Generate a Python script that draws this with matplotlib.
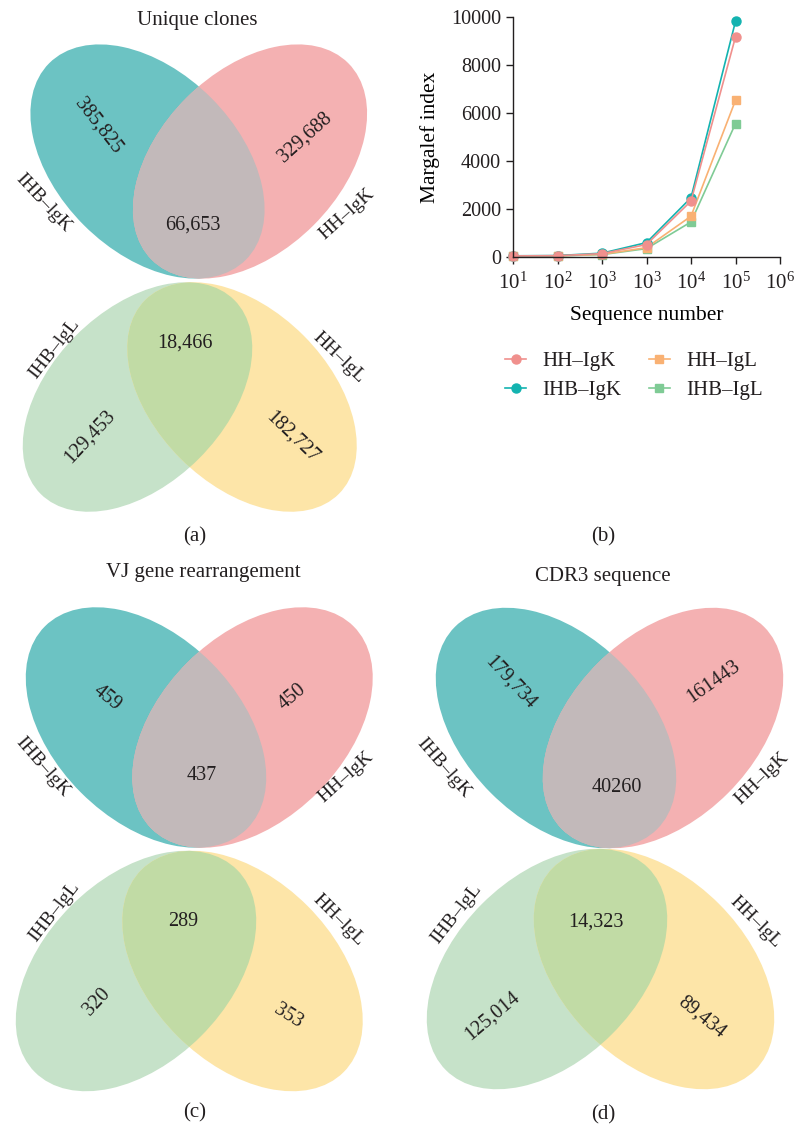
import matplotlib
matplotlib.use('Agg')
import matplotlib.pyplot as plt
from matplotlib.patches import Ellipse

plt.rcParams['font.family'] = ['Liberation Serif', 'DejaVu Serif']
plt.rcParams['mathtext.fontset'] = 'custom'
plt.rcParams['mathtext.rm'] = 'Liberation Serif'
plt.rcParams['mathtext.it'] = 'Liberation Serif:italic'
plt.rcParams['text.color'] = '#231f20'

INK = '#231f20'

# ---- Margalef index vs sequence number ----
seq_ticks = ['$10^{1}$', '$10^{2}$', '$10^{3}$', '$10^{3}$', '$10^{4}$', '$10^{5}$', '$10^{6}$']
hh_igk = [45, 55, 140, 520, 2330, 9170]
ihb_igk = [50, 60, 160, 600, 2470, 9820]
hh_igl = [40, 50, 110, 390, 1700, 6530]
ihb_igl = [35, 45, 100, 350, 1460, 5560]

# ---- venn counts: [left only, shared, right only] ----
clones_k = ['385,825', '66,653', '329,688']
clones_l = ['129,453', '18,466', '182,727']
vj_k = ['459', '437', '450']
vj_l = ['320', '289', '353']
cdr3_k = ['179,734', '40260', '161443']
cdr3_l = ['125,014', '14,323', '89,434']

TEAL, PINK, GREY = '#6cc3c3', '#f4b1b2', '#c2b9ba'
LGREEN, YELLOW, OLIVE = '#c6e2c9', '#fde5a8', '#c1dba5'

W, H = 795, 1132
fig = plt.figure(figsize=(W / 100, H / 100), dpi=100)

canvas = fig.add_axes([0, 0, 1, 1])
canvas.set_xlim(0, W)
canvas.set_ylim(H, 0)
canvas.axis('off')


def venn_pair(ax, xl, xr, cy, a, b, top, c1, c2, c12):
    ang = 45 if top else -45
    e1 = Ellipse((xl, cy), 2 * a, 2 * b, angle=ang, facecolor=c1, edgecolor='none')
    e2 = Ellipse((xr, cy), 2 * a, 2 * b, angle=-ang, facecolor=c2, edgecolor='none')
    e3 = Ellipse((xr, cy), 2 * a, 2 * b, angle=-ang, facecolor=c12, edgecolor='none')
    ax.add_patch(e1)
    ax.add_patch(e2)
    ax.add_patch(e3)
    e3.set_clip_path(e1)


def put(ax, x, y, s, rot=0, size=14.5):
    ax.text(x, y, s, rotation=rot, ha='center', va='center', fontsize=size, color=INK)


# (a) unique clones
venn_pair(canvas, 147.5, 250, 161.5, 139, 90, True, TEAL, PINK, GREY)
venn_pair(canvas, 137.5, 242, 397, 137, 87, False, LGREEN, YELLOW, OLIVE)
put(canvas, 98, 126, clones_k[0], -52)
put(canvas, 193, 225, clones_k[1])
put(canvas, 305, 137, clones_k[2], 42)
put(canvas, 43, 203, 'IHB–lgK', -47, 14)
put(canvas, 347, 214, 'HH–lgK', 42, 14)
put(canvas, 90, 437, clones_l[0], 47)
put(canvas, 185, 343, clones_l[1])
put(canvas, 292, 437, clones_l[2], -44)
put(canvas, 54, 349, 'IHB–lgL', 52, 14)
put(canvas, 339, 358, 'HH–lgL', -44, 14)
put(canvas, 197, 20, 'Unique clones', size=15)
put(canvas, 195, 537, '(a)', size=15)

# (c) VJ gene rearrangement
venn_pair(canvas, 146, 252.5, 727.5, 143, 92, True, TEAL, PINK, GREY)
venn_pair(canvas, 136, 242.5, 971, 143, 92, False, LGREEN, YELLOW, OLIVE)
put(canvas, 107, 698, vj_k[0], -39)
put(canvas, 202, 775, vj_k[1])
put(canvas, 292, 697, vj_k[2], 40)
put(canvas, 43, 767, 'IHB–lgK', -49, 14)
put(canvas, 346, 777, 'HH–lgK', 42, 14)
put(canvas, 97, 1002, vj_l[0], 47)
put(canvas, 183, 922, vj_l[1])
put(canvas, 288, 1016, vj_l[2], -32)
put(canvas, 54, 912, 'IHB–lgL', 52, 14)
put(canvas, 339, 920, 'HH–lgL', -45, 14)
put(canvas, 203, 573, 'VJ gene rearrangement', size=15)
put(canvas, 195, 1113, '(c)', size=15)

# (d) CDR3 sequence
venn_pair(canvas, 556, 663, 728, 143, 92, True, TEAL, PINK, GREY)
venn_pair(canvas, 547, 654, 969, 143, 92, False, LGREEN, YELLOW, OLIVE)
put(canvas, 510, 683, cdr3_k[0], -47)
put(canvas, 617, 787, cdr3_k[1])
put(canvas, 713, 682, cdr3_k[2], 35)
put(canvas, 444, 768, 'IHB–lgK', -49, 14)
put(canvas, 762, 778, 'HH–lgK', 44, 14)
put(canvas, 492, 1016, cdr3_l[0], 40)
put(canvas, 596, 922, cdr3_l[1])
put(canvas, 702, 1017, cdr3_l[2], -39)
put(canvas, 456, 914, 'IHB–lgL', 52, 14)
put(canvas, 756, 922, 'HH–lgL', -45, 14)
put(canvas, 603, 576, 'CDR3 sequence', size=15)
put(canvas, 603, 1115, '(d)', size=15)
put(canvas, 603, 537, '(b)', size=15)

# (b) line chart
ax = fig.add_axes([513 / W, 1 - 257 / H, 267 / W, 240 / H])
x = list(range(len(hh_igk)))
ax.plot(x, ihb_igl, '-s', color='#7fcb95', ms=6, lw=1.2, label='IHB–IgL')
ax.plot(x, hh_igl, '-s', color='#f9b173', ms=6, lw=1.2, label='HH–IgL')
ax.plot(x, ihb_igk, '-o', color='#13b3b0', ms=6.5, lw=1.2, label='IHB–IgK')
ax.plot(x, hh_igk, '-o', color='#f0908d', ms=6.5, lw=1.2, label='HH–IgK')
ax.set_xlim(0, len(seq_ticks) - 1)
ax.set_ylim(0, 10000)
ax.set_xticks(range(len(seq_ticks)))
ax.set_xticklabels(seq_ticks)
ax.set_yticks([0, 2000, 4000, 6000, 8000, 10000])
for s in ['top', 'right']:
    ax.spines[s].set_visible(False)
for s in ['left', 'bottom']:
    ax.spines[s].set_linewidth(1.0)
    ax.spines[s].set_color(INK)
ax.tick_params(labelsize=14.5, colors=INK, width=1.0, length=5)
ax.tick_params(axis='x', labelsize=15, pad=6)
ax.set_xlabel('Sequence number', fontsize=15.5, labelpad=9)
ax.set_ylabel('Margalef index', fontsize=15.5, labelpad=8)
for line in ax.lines:
    line.set_clip_on(False)

h, l = ax.get_legend_handles_labels()
order = [3, 2, 1, 0]
fig.legend([h[i] for i in order], [l[i] for i in order], ncol=2, frameon=False,
           loc='center', bbox_to_anchor=(634 / W, 1 - 376 / H), fontsize=15,
           handlelength=1.0, handletextpad=0.8, columnspacing=1.3, labelspacing=0.45)

fig.savefig('out.png', dpi=100)
